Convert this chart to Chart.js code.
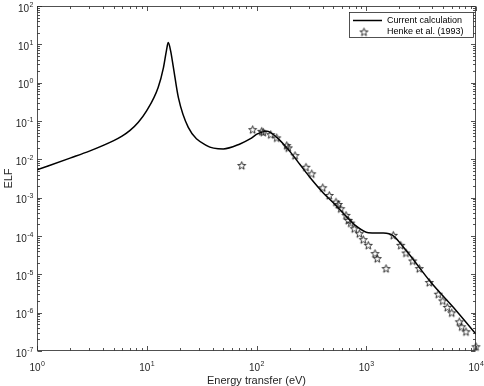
<!DOCTYPE html>
<html>
<head>
<meta charset="utf-8">
<script src="https://cdn.jsdelivr.net/npm/chart.js@4.4.1/dist/chart.umd.min.js"></script>
<style>
  html, body { margin: 0; padding: 0; background: #fff; }
  canvas { display: block; }
</style>
</head>
<body>
<canvas id="elfChart" width="484" height="386"></canvas>
<script>
// Current calculation (solid line)
const energyCalc = [1, 2, 3, 5, 5.95, 7, 8.38, 10, 12.7, 14.2, 15.1, 15.7, 16.5, 17.5, 19.4, 23.9, 35.2,
  49.8, 70.7, 87.3, 103, 124, 153, 202, 249, 318, 406, 519, 664, 806, 1044, 1430,
  1764, 2176, 2503, 3810, 6670, 10000];
const elfCalc = [5.32e-3, 1.078e-2, 1.64e-2, 3.08e-2, 4.03e-2, 5.6e-2, 9.3e-2, 0.1856, 0.749, 2.48, 6.75, 11.1,
  6.75, 2.48, 0.412, 6.83e-2, 2.28e-2, 1.87e-2, 2.52e-2, 3.41e-2, 4.68e-2, 5.43e-2,
  3.75e-2, 1.59e-2, 7.31e-3, 2.98e-3, 1.33e-3, 6.65e-4, 3.15e-4, 1.84e-4, 1.22e-4, 1.19e-4,
  1.01e-4, 5.16e-5, 3.14e-5, 6.6e-6, 1.095e-6, 2.76e-7];

// Henke et al. (1993) (stars)
const energyHenke = [73.3, 92.3, 111.5, 115.3, 134.7, 152.8, 188.4, 194.9, 224.3, 282.5, 318.4,
  401.2, 460.6, 530.1, 556.4, 585, 653.9, 686.2, 721.7, 778.2, 864.6, 939.9, 1044, 1202,
  1261, 1514, 1764, 2060, 2302, 2650, 3044, 3754, 4535, 4973, 5477, 6005, 7045, 7406,
  8107, 10000];
const elfHenke = [6.88e-3, 5.94e-2, 5.37e-2, 5.06e-2, 4.41e-2, 3.62e-2, 2.28e-2, 1.99e-2, 1.25e-2,
  6.21e-3, 4.19e-3, 1.81e-3, 1.14e-3, 7.64e-4, 6.65e-4, 5.14e-4, 3.44e-4, 2.55e-4, 2.17e-4,
  1.55e-4, 1.15e-4, 8.03e-5, 5.71e-5, 3.47e-5, 2.57e-5, 1.41e-5, 1.04e-4, 5.71e-5, 3.6e-5,
  2.23e-5, 1.41e-5, 6.11e-6, 3.03e-6, 2.03e-6, 1.37e-6, 9.89e-7, 5.77e-7, 4.28e-7, 3.17e-7,
  1.29e-7];

// Tick labels (powers of ten)
const xTickExps = [0, 1, 2, 3, 4];
const yTickExps = [-7, -6, -5, -4, -3, -2, -1, 0, 1, 2];

const seriesNames = ["Current calculation", "Henke et al. (1993)"];
const xTitle = "Energy transfer (eV)";
const yTitle = "ELF";

const AXIS_COLOR = "#262626";
const FONT = "Liberation Sans, Arial, Helvetica, sans-serif";

// hollow pentagram marker
function makeStar() {
    const c = document.createElement("canvas");
    c.width = 11; c.height = 11;
    const g = c.getContext("2d");
    const R = 4.2, r = 1.75;
    g.beginPath();
    for (let i = 0; i < 10; i++) {
        const rad = i % 2 === 0 ? R : r;
        const a = -Math.PI / 2 + i * Math.PI / 5;
        const px = 5.5 + rad * Math.cos(a);
        const py = 5.8 + rad * Math.sin(a);
        if (i === 0) g.moveTo(px, py); else g.lineTo(px, py);
    }
    g.closePath();
    g.strokeStyle = "#111";
    g.lineWidth = 0.85;
    g.stroke();
    return c;
}
const starImg = makeStar();

// draws a "10^n" label with "10" baseline at y
function drawPow(ctx, exp, x, y, align) {
    const base = "10", sup = String(exp);
    ctx.font = "10px " + FONT;
    const wb = ctx.measureText(base).width;
    ctx.font = "7px " + FONT;
    const ws = ctx.measureText(sup).width;
    let x0 = x;
    if (align === "center") x0 = x - (wb + ws) / 2;
    if (align === "right") x0 = x - (wb + ws);
    ctx.textAlign = "left";
    ctx.textBaseline = "alphabetic";
    ctx.font = "10px " + FONT;
    ctx.fillText(base, x0, y);
    ctx.font = "7px " + FONT;
    ctx.fillText(sup, x0 + wb + 0.5, y - 5);
}

const matlabAxes = {
    id: "matlabAxes",
    afterDraw(chart) {
        const ctx = chart.ctx;
        const a = chart.chartArea;
        const xs = chart.scales.x, ys = chart.scales.y;
        const L = Math.round(a.left) + 0.5, R = Math.round(a.right) - 0.5;
        const T = Math.round(a.top) + 0.5, B = Math.round(a.bottom) - 0.5;
        ctx.save();
        ctx.strokeStyle = AXIS_COLOR;
        ctx.lineWidth = 0.8;
        ctx.strokeRect(L, T, R - L, B - T);

        // tick marks, inward on all four sides
        ctx.beginPath();
        for (let d = xTickExps[0]; d <= xTickExps[xTickExps.length - 1]; d++) {
            for (let m = 1; m <= 9; m++) {
                const v = m * Math.pow(10, d);
                if (v > xs.max) break;
                const px = Math.round(xs.getPixelForValue(v)) + 0.5;
                const len = m === 1 ? 4.5 : 2.5;
                ctx.moveTo(px, B); ctx.lineTo(px, B - len);
                ctx.moveTo(px, T); ctx.lineTo(px, T + len);
            }
        }
        for (let d = yTickExps[0]; d <= yTickExps[yTickExps.length - 1]; d++) {
            for (let m = 1; m <= 9; m++) {
                const v = m * Math.pow(10, d);
                if (v > ys.max) break;
                const py = Math.round(ys.getPixelForValue(v)) + 0.5;
                const len = m === 1 ? 4.5 : 2.5;
                ctx.moveTo(L, py); ctx.lineTo(L + len, py);
                ctx.moveTo(R, py); ctx.lineTo(R - len, py);
            }
        }
        ctx.stroke();

        // tick labels
        ctx.fillStyle = AXIS_COLOR;
        xTickExps.forEach(e => {
            const px = xs.getPixelForValue(Math.pow(10, e));
            drawPow(ctx, e, px, a.bottom + 20, "center");
        });
        yTickExps.forEach(e => {
            const py = ys.getPixelForValue(Math.pow(10, e));
            drawPow(ctx, e, a.left - 4, py + 5.5, "right");
        });

        // axis titles
        ctx.font = "11px " + FONT;
        ctx.textAlign = "center";
        ctx.textBaseline = "middle";
        ctx.fillText(xTitle, (a.left + a.right) / 2, a.bottom + 30);
        ctx.save();
        ctx.translate(9, (a.top + a.bottom) / 2);
        ctx.rotate(-Math.PI / 2);
        ctx.fillText(yTitle, 0, 0);
        ctx.restore();

        // legend box, top right
        const bx = 349.5, by = 12.5, bw = 124, bh = 25;
        ctx.fillStyle = "#fff";
        ctx.fillRect(bx, by, bw, bh);
        ctx.strokeStyle = AXIS_COLOR;
        ctx.lineWidth = 0.8;
        ctx.strokeRect(bx, by, bw, bh);
        ctx.strokeStyle = "#000";
        ctx.lineWidth = 1.5;
        ctx.beginPath();
        ctx.moveTo(353, 20.5); ctx.lineTo(382, 20.5);
        ctx.stroke();
        ctx.drawImage(starImg, 364 - 5.5, 32 - 5.5);
        ctx.fillStyle = "#000";
        ctx.font = "9px " + FONT;
        ctx.textAlign = "left";
        ctx.textBaseline = "middle";
        ctx.fillText(seriesNames[0], 387, 20.5);
        ctx.fillText(seriesNames[1], 387, 32);
        ctx.restore();
    }
};

new Chart(document.getElementById("elfChart"), {
    type: "line",
    data: {
        datasets: [
            {
                label: seriesNames[1],
                data: energyHenke.map((e, i) => ({ x: e, y: elfHenke[i] })),
                showLine: false,
                pointStyle: starImg,
                pointRadius: 5,
                clip: false,
                order: 0
            },
            {
                label: seriesNames[0],
                data: energyCalc.map((e, i) => ({ x: e, y: elfCalc[i] })),
                borderColor: "#000",
                borderWidth: 1.5,
                pointRadius: 0,
                cubicInterpolationMode: "monotone",
                fill: false,
                order: 1
            }
        ]
    },
    options: {
        responsive: false,
        animation: false,
        devicePixelRatio: 1,
        layout: { padding: { top: 5, right: 8, left: 0, bottom: 0 } },
        plugins: { legend: { display: false }, tooltip: { enabled: false } },
        scales: {
            x: {
                type: "logarithmic", min: 1, max: 1e4,
                ticks: { display: false },
                grid: { display: false },
                border: { display: false },
                afterFit: s => { s.height = 35; }
            },
            y: {
                type: "logarithmic", min: 1e-7, max: 1e2,
                ticks: { display: false },
                grid: { display: false },
                border: { display: false },
                afterFit: s => { s.width = 37; }
            }
        }
    },
    plugins: [matlabAxes]
});
</script>
</body>
</html>
